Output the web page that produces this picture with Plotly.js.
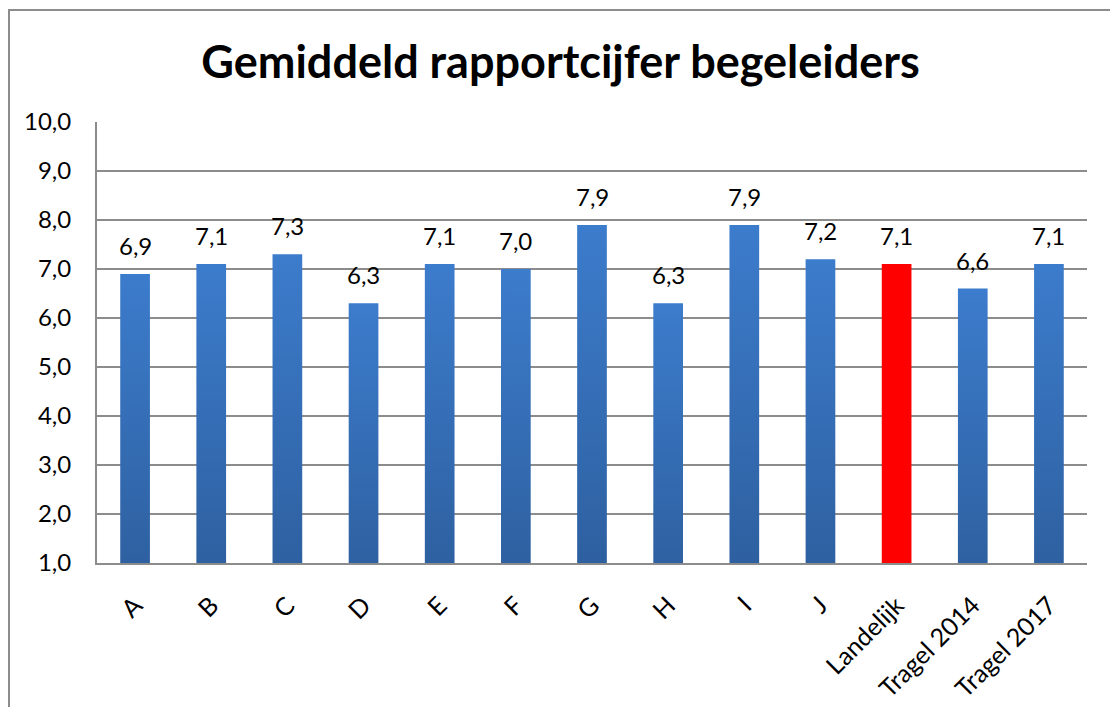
<!DOCTYPE html>
<html>
<head>
<meta charset="utf-8">
<script src="https://cdn.plot.ly/plotly-3.0.1.min.js"></script>
<style>
html,body{margin:0;padding:0;background:#fff;overflow:hidden;}
#frame{position:absolute;left:8px;top:9px;width:1200px;height:800px;border-left:2px solid #8c8c8c;border-top:2px solid #8c8c8c;}
#chart{position:absolute;left:0;top:0;width:1110px;height:707px;}
</style>
</head>
<body>
<div id="frame"></div>
<div id="chart"></div>
<script>
const categories = ['A','B','C','D','E','F','G','H','I','J','Landelijk','Tragel 2014','Tragel 2017'];
const values = [6.9, 7.1, 7.3, 6.3, 7.1, 7.0, 7.9, 6.3, 7.9, 7.2, 7.1, 6.6, 7.1];
const highlight = 'Landelijk';
const yTicks = [1,2,3,4,5,6,7,8,9,10];

const FONT = 'Lato, "Open Sans", sans-serif';
const colors = categories.map(c => c === highlight ? '#ff0000' : '#3a75c0');

const trace = {
  type: 'bar',
  x: categories,
  y: values,
  marker: {color: colors, line: {width: 0}},
  hoverinfo: 'none'
};

const annotations = categories.map((c, i) => ({
  x: c, y: values[i], xref: 'x', yref: 'y',
  text: values[i].toFixed(1).replace('.', ','),
  showarrow: false, yanchor: 'bottom', yshift: 12,
  font: {family: FONT, size: 24, color: '#000'}
}));

const layout = {
  width: 1110, height: 707,
  paper_bgcolor: 'rgba(0,0,0,0)', plot_bgcolor: 'rgba(0,0,0,0)',
  margin: {l: 97, r: 23, t: 122, b: 144},
  separators: ',.',
  bargap: 0.61,
  showlegend: false,
  title: {
    text: '<b>Gemiddeld rapportcijfer begeleiders</b>',
    x: 0.505, xanchor: 'center', y: 0.912, yanchor: 'middle',
    font: {family: FONT, size: 45, color: '#000'}
  },
  xaxis: {
    type: 'category', tickangle: -45,
    showline: true, linecolor: '#8c8c8c', linewidth: 2,
    showgrid: false, ticks: '', ticklabelstandoff: 16,
    tickfont: {family: FONT, size: 25, color: '#000'}
  },
  yaxis: {
    range: [1, 10], tickvals: yTicks, tickformat: '.1f',
    showline: true, linecolor: '#8c8c8c', linewidth: 2,
    showgrid: true, gridcolor: '#8c8c8c', gridwidth: 2,
    zeroline: false, ticks: '', ticklabelstandoff: 19,
    tickfont: {family: FONT, size: 24, color: '#000'}
  },
  annotations: annotations
};

Plotly.newPlot('chart', [trace], layout, {staticPlot: true}).then(gd => {
  const svg = gd.querySelector('svg.main-svg');
  const ns = 'http://www.w3.org/2000/svg';
  let defs = svg.querySelector('defs');
  if (!defs) { defs = document.createElementNS(ns, 'defs'); svg.insertBefore(defs, svg.firstChild); }
  const grad = document.createElementNS(ns, 'linearGradient');
  grad.setAttribute('id', 'barGrad');
  grad.setAttribute('x1', '0'); grad.setAttribute('y1', '0');
  grad.setAttribute('x2', '0'); grad.setAttribute('y2', '1');
  [['0', '#3c7ccc'], ['1', '#2c5c9a']].forEach(([o, c]) => {
    const s = document.createElementNS(ns, 'stop');
    s.setAttribute('offset', o); s.setAttribute('stop-color', c);
    grad.appendChild(s);
  });
  defs.appendChild(grad);
  const paths = gd.querySelectorAll('.bars .point path');
  paths.forEach((p, i) => {
    if (categories[i] !== highlight) p.style.fill = 'url(#barGrad)';
  });
});
</script>
</body>
</html>
